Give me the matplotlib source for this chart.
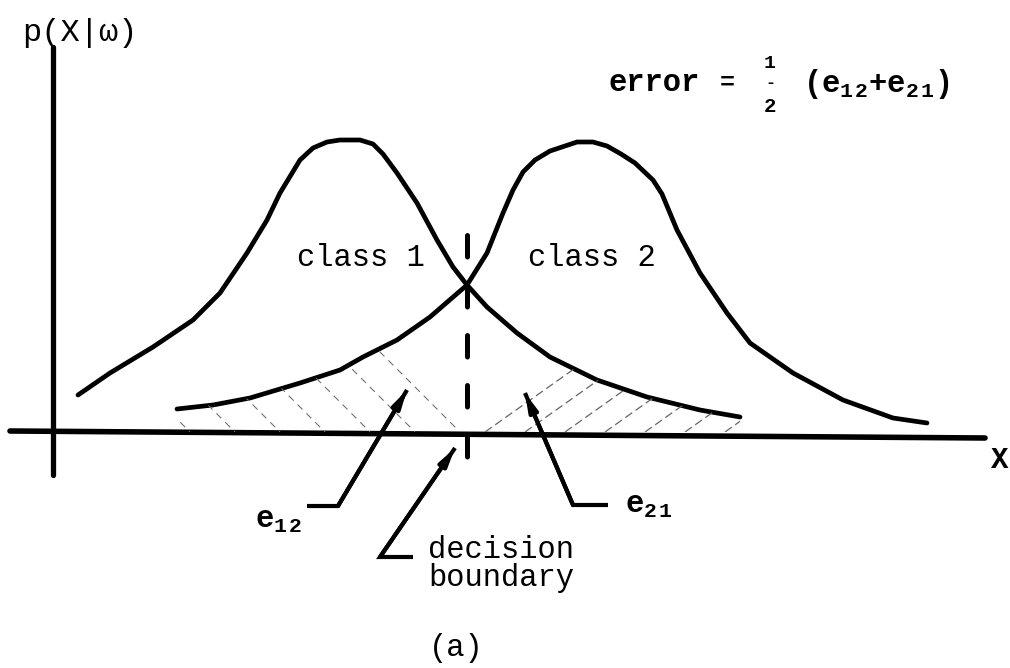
import numpy as np
import matplotlib
matplotlib.use("Agg")
import matplotlib.pyplot as plt

# curve points (x along the axis, y = density height)
class1_x = [0.23, 0.55, 0.98, 1.38, 1.65, 1.92, 2.12, 2.25, 2.45, 2.58, 2.72,
            2.85, 3.05, 3.18, 3.28, 3.42, 3.62, 3.82, 3.98, 4.12, 4.32, 4.62,
            4.95, 5.42, 5.92, 6.45, 6.85]
class1_y = [0.37, 0.59, 0.85, 1.12, 1.39, 1.79, 2.12, 2.39, 2.72, 2.84, 2.90,
            2.92, 2.92, 2.88, 2.78, 2.59, 2.29, 1.92, 1.65, 1.47, 1.25, 0.99,
            0.75, 0.52, 0.35, 0.22, 0.15]

class2_x = [1.22, 1.58, 1.95, 2.45, 2.85, 3.08, 3.42, 3.75, 4.12, 4.32, 4.48,
            4.58, 4.68, 4.80, 4.95, 5.22, 5.38, 5.52, 5.66, 5.80, 5.98, 6.07,
            6.22, 6.45, 6.72, 6.95, 7.38, 7.88, 8.38, 8.72]
class2_y = [0.23, 0.27, 0.34, 0.49, 0.62, 0.75, 0.92, 1.15, 1.47, 1.79, 2.19,
            2.42, 2.60, 2.72, 2.81, 2.90, 2.90, 2.86, 2.78, 2.69, 2.52, 2.38,
            2.02, 1.59, 1.19, 0.89, 0.59, 0.32, 0.14, 0.09]

boundary_x = 4.12
boundary_y = [1.97, -0.26]

# axes of the sketch
xaxis_x = [-0.45, 9.30]
xaxis_y = [0.01, -0.06]
yaxis_x = [-0.02, -0.02]
yaxis_y = [3.85, -0.43]

# leader lines: (stub end, elbow, arrow tip)
e12_leader = ([2.52, 2.83, 3.52], [-0.74, -0.74, 0.42])
dec_leader = ([3.58, 3.25, 4.00], [-1.25, -1.25, -0.16])
e21_leader = ([5.53, 5.18, 4.70], [-0.73, -0.73, 0.39])

plt.rcParams["mathtext.fontset"] = "custom"
plt.rcParams["mathtext.rm"] = "Liberation Mono"
plt.rcParams["mathtext.it"] = "Liberation Mono"
plt.rcParams["mathtext.bf"] = "Liberation Mono:bold"
plt.rcParams["lines.scale_dashes"] = False

FONT = "Liberation Mono"

fig = plt.figure(figsize=(10.1, 6.68), dpi=100, facecolor="white")
ax = fig.add_axes([0, 0, 1, 1])
ax.set_xlim(-0.55, 9.55)
ax.set_ylim(-2.36, 4.32)
ax.axis("off")

# axes
ax.plot(xaxis_x, xaxis_y, color="black", lw=4, solid_capstyle="round")
ax.plot(yaxis_x, yaxis_y, color="black", lw=3.8, solid_capstyle="round")

# the two class densities
ax.plot(class1_x, class1_y, color="black", lw=3.4,
        solid_capstyle="round", solid_joinstyle="round")
ax.plot(class2_x, class2_y, color="black", lw=3.4,
        solid_capstyle="round", solid_joinstyle="round")

# faint hatching of the two error areas
c2x = np.array(class2_x)
c2y = np.array(class2_y)
left = c2x <= boundary_x
reg12 = ax.fill_between(c2x[left], 0, c2y[left], facecolor="none", edgecolor="none")

c1x = np.array(class1_x)
c1y = np.array(class1_y)
right = c1x >= boundary_x
reg21 = ax.fill_between(c1x[right], 0, c1y[right], facecolor="none", edgecolor="none")

for x0 in np.arange(1.35, 4.2, 0.45):
    ln, = ax.plot([x0 - 1.6, x0], [1.6, 0], color="0.45", lw=0.8,
                  linestyle=(0, (5, 4)))
    ln.set_clip_path(reg12.get_paths()[0], ax.transData)

for x0 in np.arange(4.30, 7.0, 0.40):
    ln, = ax.plot([x0, x0 + 2.4], [0, 1.7], color="0.4", lw=0.9,
                  linestyle=(0, (6, 3)))
    ln.set_clip_path(reg21.get_paths()[0], ax.transData)

# dashed decision boundary
ax.plot([boundary_x, boundary_x], boundary_y, color="black", lw=3.6,
        dash_capstyle="round", dashes=(15.5, 20.5))

# leader lines with arrow heads
for lx, ly in (e12_leader, dec_leader, e21_leader):
    ax.plot(lx, ly, color="black", lw=3.0, solid_capstyle="butt",
            solid_joinstyle="miter")
    ax.annotate("", xy=(lx[2], ly[2]), xytext=(lx[1], ly[1]),
                arrowprops=dict(arrowstyle="-|>,head_length=1.0,head_width=0.25",
                                color="black", lw=3.0, shrinkA=0, shrinkB=0))

# labels
ax.text(0.25, 3.99, "p(X|ω)", family=FONT, fontsize=23, ha="center", va="center")
ax.text(9.45, -0.28, "X", family=FONT, fontsize=21, fontweight="bold",
        ha="center", va="center")

ax.text(5.53, 3.49, "error", family=FONT, fontsize=22, fontweight="bold",
        ha="left", va="center")
ax.text(6.72, 3.49, "=", family=FONT, fontsize=18, fontweight="bold",
        ha="center", va="center")
ax.text(7.15, 3.69, "1", family=FONT, fontsize=14, fontweight="bold",
        ha="center", va="center")
ax.text(7.15, 3.50, "-", family=FONT, fontsize=12, fontweight="bold",
        ha="center", va="center")
ax.text(7.15, 3.25, "2", family=FONT, fontsize=15, fontweight="bold",
        ha="center", va="center")
ax.text(7.48, 3.48, r"(e$_{\mathbf{1\,2}}$+e$_{\mathbf{2\,1}}$)", family=FONT,
        fontsize=22, fontweight="bold", ha="left", va="center")

ax.text(2.42, 1.74, "class 1", family=FONT, fontsize=22, ha="left", va="center")
ax.text(4.73, 1.74, "class 2", family=FONT, fontsize=22, ha="left", va="center")

ax.text(2.0, -0.88, r"e$_{\mathbf{1\,2}}$", family=FONT, fontsize=22,
        fontweight="bold", ha="left", va="center")
ax.text(5.70, -0.73, r"e$_{\mathbf{2\,1}}$", family=FONT, fontsize=22,
        fontweight="bold", ha="left", va="center")

ax.text(3.73, -1.18, "decision", family=FONT, fontsize=22, ha="left", va="center")
ax.text(3.73, -1.46, "boundary", family=FONT, fontsize=22, ha="left", va="center")

ax.text(4.01, -2.16, "(a)", family=FONT, fontsize=22, ha="center", va="center")

fig.savefig("out.png", dpi=100, facecolor="white")
